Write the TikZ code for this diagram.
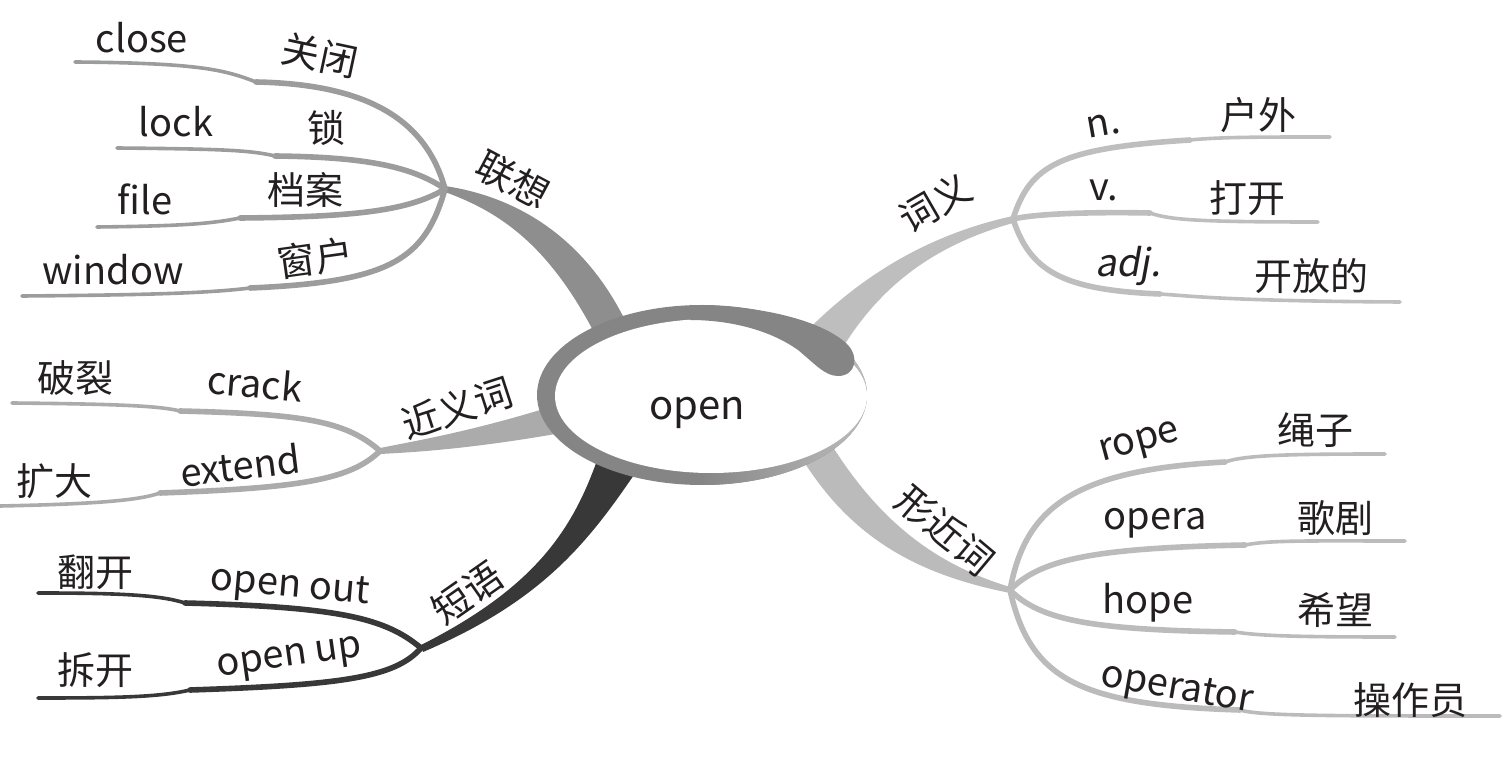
\documentclass[tikz,border=0pt]{standalone}
\usepackage{fontspec}
\setmainfont{Noto Sans CJK SC}
\newfontfamily\slantfont[FakeSlant=0.18]{Noto Sans CJK SC}
\definecolor{ringgray}{HTML}{858585}
\definecolor{ringlight}{HTML}{BDBDBD}
\definecolor{lxgray}{HTML}{8E8E8E}
\definecolor{lxtwig}{HTML}{9C9C9C}
\definecolor{cygray}{HTML}{BEBEBE}
\definecolor{jygray}{HTML}{ABABAB}
\definecolor{dydark}{HTML}{383838}
\definecolor{xjgray}{HTML}{BBBBBB}
\definecolor{inkblack}{HTML}{231F20}
\tikzset{
  word/.style={font=\fontsize{19}{22}\selectfont, text=inkblack, inner sep=0pt},
  twigroot/.style={line width=2.8pt, line cap=round},
  twigtip/.style={line width=1.8pt, line cap=round},
}
\begin{document}
\begin{tikzpicture}[x=0.5pt,y=-0.5pt]
\useasboundingbox (0,0) rectangle (1510,769);

% junctions
\coordinate (jLx) at (445,189);
\coordinate (jCy) at (1013,219);
\coordinate (jJy) at (380,451);
\coordinate (jDy) at (421,648);
\coordinate (jXj) at (1010,590);

% trunks
\fill[lxgray] (445,186) .. controls (505,195) and (585,228) .. (632,335)
  -- (598,340) .. controls (550,245) and (500,212) .. (445,192) -- cycle;
\fill[cygray] (1013,216) .. controls (930,234) and (860,275) .. (800,338)
  -- (840,352) .. controls (880,285) and (935,245) .. (1013,223) -- cycle;
\fill[jygray] (380,448) .. controls (420,440) and (480,430) .. (572,400)
  -- (578,430) .. controls (480,448) and (420,452) .. (380,454) -- cycle;
\fill[dydark] (421,645) .. controls (540,585) and (575,525) .. (600,452)
  -- (640,466) .. controls (590,540) and (545,600) .. (423,652) -- cycle;
\fill[xjgray] (1010,587) .. controls (920,560) and (868,505) .. (826,436)
  -- (798,452) .. controls (850,540) and (920,575) .. (1010,593) -- cycle;

% associations
\draw[twigroot, lxtwig] (jLx) .. controls (425,115) and (360,84) .. (256,82);
\draw[twigtip, lxtwig] (256,82) .. controls (225,70) and (200,63) .. (75,62);
\draw[twigroot, lxtwig] (jLx) .. controls (410,165) and (360,157) .. (275,156);
\draw[twigtip, lxtwig] (275,156) .. controls (250,150) and (220,149) .. (117,148);
\draw[twigroot, lxtwig] (jLx) .. controls (410,210) and (360,217) .. (240,218);
\draw[twigtip, lxtwig] (240,218) .. controls (210,224) and (180,226) .. (97,227);
\draw[twigroot, lxtwig] (jLx) .. controls (425,260) and (390,282) .. (250,288);
\draw[twigtip, lxtwig] (250,288) .. controls (210,293) and (150,295) .. (22,296);

% meanings
\draw[twigroot, cygray] (jCy) .. controls (1030,165) and (1060,148) .. (1190,140);
\draw[twigtip, cygray] (1190,140) .. controls (1220,137) and (1260,137) .. (1330,137);
\draw[twigroot, cygray] (jCy) .. controls (1040,213) and (1100,212) .. (1150,213);
\draw[twigtip, cygray] (1150,213) .. controls (1170,220) and (1200,222) .. (1318,222);
\draw[twigroot, cygray] (jCy) .. controls (1030,270) and (1060,290) .. (1160,294);
\draw[twigtip, cygray] (1160,294) .. controls (1190,296) and (1230,301) .. (1400,302);

% synonyms
\draw[twigroot, jygray] (jJy) .. controls (345,420) and (300,414) .. (180,411);
\draw[twigtip, jygray] (180,411) .. controls (160,406) and (120,404) .. (12,403);
\draw[twigroot, jygray] (jJy) .. controls (350,480) and (300,488) .. (160,493);
\draw[twigtip, jygray] (160,493) .. controls (140,500) and (100,504) .. (0,506);

% phrases
\draw[twigroot, dydark] (jDy) .. controls (385,618) and (340,607) .. (185,603);
\draw[twigtip, dydark] (185,603) .. controls (160,595) and (120,593) .. (38,593);
\draw[twigroot, dydark] (jDy) .. controls (395,678) and (340,685) .. (190,690);
\draw[twigtip, dydark] (190,690) .. controls (160,697) and (120,698) .. (38,698);

% look-alikes
\draw[twigroot, xjgray] (jXj) .. controls (1025,510) and (1070,470) .. (1225,462);
\draw[twigtip, xjgray] (1225,462) .. controls (1245,455) and (1290,454) .. (1385,454);
\draw[twigroot, xjgray] (jXj) .. controls (1040,560) and (1090,548) .. (1245,545);
\draw[twigtip, xjgray] (1245,545) .. controls (1270,540) and (1310,541) .. (1405,541);
\draw[twigroot, xjgray] (jXj) .. controls (1040,620) and (1090,630) .. (1235,632);
\draw[twigtip, xjgray] (1235,632) .. controls (1260,636) and (1300,637) .. (1395,637);
\draw[twigroot, xjgray] (jXj) .. controls (1030,680) and (1080,705) .. (1240,710);
\draw[twigtip, xjgray] (1240,710) .. controls (1260,716) and (1330,716) .. (1500,716);

% centre
\fill[ringgray] (702,395) ellipse [x radius=82.5pt, y radius=45pt];
\begin{scope}
  \clip (702,395) ellipse [x radius=82.5pt, y radius=45pt];
  \shade[left color=ringgray, right color=ringlight] (700,360) rectangle (870,500);
\end{scope}
\fill[white] (711,396) ellipse [x radius=78pt, y radius=38.5pt];
\fill[ringgray] (690,305) .. controls (760,305) and (820,320) .. (846,343)
  .. controls (860,356) and (856,376) .. (838,376)
  .. controls (825,376) and (815,364) .. (798,350)
  .. controls (770,330) and (730,320) .. (690,320) -- cycle;
\path (697,413) node[word, font=\fontsize{20}{24}\selectfont] (open) {open};

% branch labels
\path (513,180) node[word, rotate=-28] (lianxiang) {联想};
\path (935,203) node[word, rotate=30] (ciyi) {词义};
\path (457,408) node[word, rotate=18] (jinyici) {近义词};
\path (467,593) node[word, rotate=35] (duanyu) {短语};
\path (945,530) node[word, rotate=-40] (xingjinci) {形近词};

% words
\path (142,38) node[word] (close) {close};
\path (320,55) node[word, rotate=-12] (guanbi) {关闭};
\path (176,122) node[word] (lock) {lock};
\path (326,128) node[word] (suo) {锁};
\path (145,199) node[word] (file) {file};
\path (305,190) node[word] (dangan) {档案};
\path (113,270) node[word] (window) {window};
\path (315,258) node[word, rotate=8] (chuanghu) {窗户};

\path (1103,125) node[word, rotate=10] (n) {n.};
\path (1258,115) node[word] (huwai) {户外};
\path (1104,190) node[word] (v) {v.};
\path (1247,198) node[word] (dakai) {打开};
\path (1128,266) node[word] (adj) {\slantfont adj.};
\path (1311,276) node[word] (kaifang) {开放的};

\path (75,378) node[word] (polie) {破裂};
\path (255,383) node[word, rotate=-5] (crack) {crack};
\path (240,465) node[word, rotate=7] (extend) {extend};
\path (55,481) node[word] (kuoda) {扩大};

\path (95,572) node[word] (fankai) {翻开};
\path (290,588) node[word, rotate=-5] (openout) {open out};
\path (95,670) node[word] (chaikai) {拆开};
\path (290,660) node[word, rotate=8] (openup) {open up};

\path (1140,445) node[word, rotate=15] (rope) {rope};
\path (1315,430) node[word] (shengzi) {绳子};
\path (1155,523) node[word] (opera) {opera};
\path (1335,518) node[word] (geju) {歌剧};
\path (1148,603) node[word] (hope) {hope};
\path (1335,610) node[word] (xiwang) {希望};
\path (1177,690) node[word, rotate=-10] (operator) {operator};
\path (1410,700) node[word] (caozuoyuan) {操作员};
\end{tikzpicture}
\end{document}
